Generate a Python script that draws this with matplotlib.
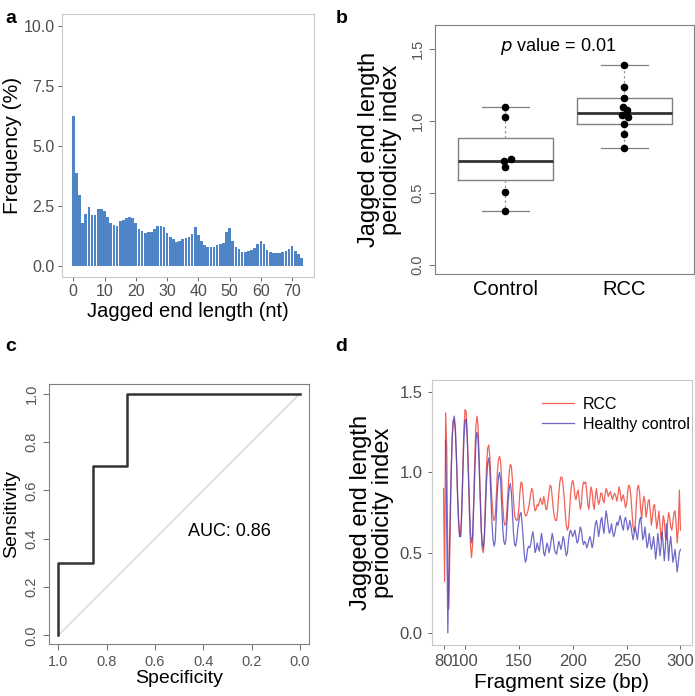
import numpy as np
import matplotlib.pyplot as plt
from matplotlib import cbook

plt.rcParams['font.family'] = ['Liberation Sans', 'DejaVu Sans']

# panel a: jagged end length distribution
jag_len = np.arange(0, 74)
jag_freq = [6.26, 3.89, 2.95, 1.81, 2.17, 2.48, 2.13, 2.13, 2.36, 2.38,
            2.31, 2.03, 1.78, 1.71, 1.68, 1.86, 1.92, 1.99, 2.03, 1.99,
            1.81, 1.56, 1.46, 1.39, 1.42, 1.43, 1.53, 1.66, 1.68, 1.61,
            1.38, 1.22, 1.11, 1.02, 1.04, 1.13, 1.17, 1.22, 1.34, 1.61,
            1.28, 1.06, 0.89, 0.78, 0.78, 0.79, 0.89, 0.93, 0.97, 1.40,
            1.60, 1.03, 0.81, 0.71, 0.60, 0.60, 0.61, 0.67, 0.74, 0.90,
            1.04, 0.92, 0.65, 0.57, 0.53, 0.53, 0.53, 0.57, 0.63, 0.72,
            0.83, 0.64, 0.49, 0.35]

# panel b: periodicity index per sample
groups = ['Control', 'RCC']
control_idx = [1.095, 1.025, 0.724, 0.736, 0.678, 0.509, 0.373]
rcc_idx = [1.387, 1.238, 1.160, 1.095, 1.074, 1.042, 1.030, 0.981, 0.912, 0.810]
control_jit = [0.0, 0.0, -0.01, 0.05, -0.005, 0.0, 0.0]
rcc_jit = [0.0, 0.0, 0.0, -0.01, 0.02, -0.017, 0.03, 0.0, 0.0, 0.0]

# panel c: ROC
roc_spec = [1.0, 1.0, 0.857, 0.857, 0.714, 0.714, 0.0]
roc_sens = [0.0, 0.3, 0.3, 0.7, 0.7, 1.0, 1.0]

# panel d: periodicity index by fragment size
rcc_size = np.arange(80, 301)
rcc_pi = [0.90, 0.32, 1.37, 1.15, 0.40, 0.15, 0.55, 0.95, 1.22, 1.32,
          1.33, 1.25, 1.08, 0.85, 0.68, 0.60, 0.62, 0.80, 1.05, 1.28,
          1.39, 1.38, 1.25, 1.02, 0.75, 0.55, 0.47, 0.55, 0.80, 1.08,
          1.28, 1.35, 1.30, 1.12, 0.88, 0.65, 0.52, 0.50, 0.62, 0.85,
          1.05, 1.15, 1.17, 1.10, 0.95, 0.82, 0.73, 0.70, 0.72, 0.85,
          1.00, 1.08, 1.10, 1.07, 0.95, 0.80, 0.70, 0.67, 0.68, 0.78,
          0.90, 1.00, 1.05, 1.04, 0.95, 0.82, 0.73, 0.71, 0.70, 0.71,
          0.78, 0.88, 0.94, 0.93, 0.85, 0.76, 0.73, 0.73, 0.75, 0.78,
          0.82, 0.87, 0.90, 0.88, 0.80, 0.76, 0.77, 0.80, 0.79, 0.82,
          0.84, 0.81, 0.80, 0.85, 0.82, 0.77, 0.77, 0.82, 0.88, 0.92,
          0.91, 0.84, 0.77, 0.72, 0.70, 0.70, 0.76, 0.86, 0.94, 0.97,
          0.97, 0.92, 0.85, 0.75, 0.67, 0.64, 0.66, 0.76, 0.86, 0.93,
          0.95, 0.92, 0.85, 0.83, 0.87, 0.89, 0.83, 0.77, 0.80, 0.90,
          0.94, 0.93, 0.94, 0.88, 0.80, 0.77, 0.85, 0.91, 0.88, 0.80,
          0.77, 0.85, 0.90, 0.84, 0.80, 0.82, 0.87, 0.87, 0.83, 0.81,
          0.86, 0.90, 0.88, 0.85, 0.87, 0.88, 0.85, 0.83, 0.86, 0.87,
          0.85, 0.82, 0.86, 0.91, 0.88, 0.82, 0.84, 0.86, 0.82, 0.78,
          0.80, 0.88, 0.92, 0.91, 0.85, 0.75, 0.66, 0.63, 0.67, 0.80,
          0.90, 0.92, 0.88, 0.78, 0.71, 0.80, 0.85, 0.82, 0.72, 0.76,
          0.82, 0.83, 0.76, 0.67, 0.72, 0.79, 0.80, 0.72, 0.65, 0.70,
          0.76, 0.68, 0.58, 0.63, 0.73, 0.70, 0.60, 0.58, 0.68, 0.75,
          0.72, 0.66, 0.64, 0.69, 0.75, 0.76, 0.68, 0.56, 0.65, 0.89,
          0.64]
hc_size = np.arange(82, 301)
hc_pi = [1.20, 0.65, 0.00, 0.40, 0.70, 0.98, 1.20, 1.32,
         1.35, 1.28, 1.10, 0.88, 0.70, 0.60, 0.60, 0.75, 1.00, 1.22,
         1.32, 1.33, 1.22, 1.02, 0.80, 0.62, 0.56, 0.60, 0.80, 1.02,
         1.18, 1.25, 1.22, 1.05, 0.85, 0.65, 0.55, 0.53, 0.60, 0.78,
         0.95, 1.06, 1.09, 1.02, 0.85, 0.68, 0.58, 0.54, 0.57, 0.72,
         0.88, 0.97, 1.00, 0.95, 0.80, 0.65, 0.57, 0.55, 0.58, 0.70,
         0.82, 0.90, 0.93, 0.88, 0.75, 0.62, 0.55, 0.54, 0.58, 0.65,
         0.70, 0.74, 0.75, 0.68, 0.58, 0.49, 0.44, 0.46, 0.52, 0.54,
         0.53, 0.55, 0.60, 0.63, 0.58, 0.50, 0.52, 0.56, 0.53, 0.51,
         0.57, 0.62, 0.57, 0.50, 0.48, 0.52, 0.56, 0.54, 0.50, 0.53,
         0.58, 0.62, 0.58, 0.52, 0.50, 0.49, 0.53, 0.57, 0.55, 0.52,
         0.55, 0.60, 0.58, 0.52, 0.48, 0.50, 0.57, 0.62, 0.64, 0.62,
         0.60, 0.62, 0.64, 0.60, 0.56, 0.57, 0.62, 0.66, 0.64, 0.58,
         0.55, 0.57, 0.56, 0.53, 0.55, 0.58, 0.60, 0.57, 0.53, 0.56,
         0.62, 0.68, 0.70, 0.66, 0.60, 0.64, 0.70, 0.72, 0.66, 0.62,
         0.70, 0.76, 0.72, 0.66, 0.62, 0.64, 0.68, 0.63, 0.60, 0.62,
         0.66, 0.69, 0.67, 0.70, 0.73, 0.70, 0.66, 0.64, 0.70, 0.72,
         0.69, 0.64, 0.66, 0.70, 0.67, 0.62, 0.58, 0.62, 0.66, 0.62,
         0.58, 0.64, 0.70, 0.72, 0.66, 0.58, 0.60, 0.66, 0.60, 0.53,
         0.56, 0.62, 0.57, 0.52, 0.55, 0.60, 0.54, 0.46, 0.52, 0.62,
         0.56, 0.48, 0.54, 0.63, 0.55, 0.45, 0.53, 0.68, 0.58, 0.45,
         0.55, 0.60, 0.52, 0.44, 0.48, 0.52, 0.45, 0.38, 0.44, 0.50,
         0.52]

grey_txt = '#4d4d4d'

fig = plt.figure(figsize=(6.95, 6.96), dpi=100)
ax_a = fig.add_axes([0.0888, 0.6016, 0.3635, 0.378])
ax_b = fig.add_axes([0.626, 0.6063, 0.3727, 0.3578])
ax_c = fig.add_axes([0.0705, 0.0743, 0.3746, 0.374])
ax_d = fig.add_axes([0.6211, 0.0733, 0.375, 0.3807])

# ---- a ----
ax_a.bar(jag_len, jag_freq, width=0.85, color='#4f84c6', edgecolor='none')
ax_a.set_xlim(-3.7, 77.1)
ax_a.set_ylim(-0.47, 10.5)
ax_a.set_xticks(range(0, 71, 10))
ax_a.set_yticks([0, 2.5, 5, 7.5, 10])
ax_a.set_yticklabels(['0.0', '2.5', '5.0', '7.5', '10.0'])
ax_a.tick_params(labelsize=11.5, colors=grey_txt, length=3, width=0.6, pad=2)
ax_a.set_ylabel('Frequency (%)', fontsize=15, labelpad=1)
ax_a.set_xlabel('Jagged end length (nt)', fontsize=14.5, labelpad=2)
for s in ax_a.spines.values():
    s.set_color('#c8c8c8')
    s.set_linewidth(0.8)

# ---- b ----
def tukey_stats(vals):
    v = np.sort(vals)
    n = len(v)
    st = cbook.boxplot_stats(v)[0]
    half = (n + 1) // 2
    st['q1'] = np.median(v[:half])
    st['q3'] = np.median(v[n - half:])
    st['whislo'] = v.min()
    st['whishi'] = v.max()
    st['fliers'] = []
    return st

stats = [tukey_stats(np.array(control_idx)), tukey_stats(np.array(rcc_idx))]
ax_b.bxp(stats, positions=[1, 2], widths=0.8, showfliers=False,
         boxprops=dict(color='#808080', linewidth=1.0),
         whiskerprops=dict(color='#999999', linewidth=0.9, linestyle=(0, (2, 2))),
         capprops=dict(color='#808080', linewidth=0.9),
         medianprops=dict(color='#333333', linewidth=2.0),
         capwidths=0.4)
ax_b.scatter(1 + np.array(control_jit), control_idx, s=20, color='black', zorder=3)
ax_b.scatter(2 + np.array(rcc_jit), rcc_idx, s=20, color='black', zorder=3)
ax_b.set_xlim(0.41, 2.585)
ax_b.set_ylim(-0.0625, 1.667)
ax_b.set_xticks([1, 2])
ax_b.set_xticklabels(groups, fontsize=14.5)
ax_b.tick_params(axis='x', length=0, pad=4)
ax_b.set_yticks([0, 0.5, 1.0, 1.5])
ax_b.set_yticklabels(['0.0', '0.5', '1.0', '1.5'], rotation=90, va='center')
ax_b.tick_params(axis='y', labelsize=10.5, colors='#555555', length=4, width=0.6)
ax_b.set_ylabel('Jagged end length\nperiodicity index', fontsize=17, linespacing=1.0, labelpad=6)
ax_b.text(1.445, 1.52, r'$\it{p}$ value = 0.01', fontsize=13, ha='center', va='center')
for s in ax_b.spines.values():
    s.set_color('#808080')
    s.set_linewidth(0.8)

# ---- c ----
ax_c.plot([1, 0], [0, 1], color='#d0d0d0', linewidth=0.9)
ax_c.plot(roc_spec, roc_sens, color='#333333', linewidth=1.8)
ax_c.set_xlim(1.039, -0.039)
ax_c.set_ylim(-0.037, 1.04)
ax_c.set_xticks([1.0, 0.8, 0.6, 0.4, 0.2, 0.0])
ax_c.set_xticklabels(['1.0', '0.8', '0.6', '0.4', '0.2', '0.0'])
ax_c.set_yticks([0, 0.2, 0.4, 0.6, 0.8, 1.0])
ax_c.set_yticklabels(['0.0', '0.2', '0.4', '0.6', '0.8', '1.0'], rotation=90, va='center')
ax_c.tick_params(labelsize=10.5, colors='#555555', length=4, width=0.6)
ax_c.set_xlabel('Specificity', fontsize=14, labelpad=1)
ax_c.set_ylabel('Sensitivity', fontsize=14, labelpad=3)
ax_c.text(0.29, 0.43, 'AUC: 0.86', fontsize=13, ha='center', va='center')
for s in ax_c.spines.values():
    s.set_color('#808080')
    s.set_linewidth(0.8)

# ---- d ----
ax_d.plot(rcc_size, rcc_pi, color='#ee3b2f', linewidth=0.9, alpha=0.8, label='RCC')
ax_d.plot(hc_size, hc_pi, color='#4a44bb', linewidth=0.9, alpha=0.8, label='Healthy control')
ax_d.set_xlim(69, 311)
ax_d.set_ylim(-0.075, 1.575)
ax_d.set_xticks([80, 100, 150, 200, 250, 300])
ax_d.set_yticks([0, 0.5, 1.0, 1.5])
ax_d.set_yticklabels(['0.0', '0.5', '1.0', '1.5'])
ax_d.tick_params(labelsize=12, colors=grey_txt, length=3, width=0.6)
ax_d.set_xlabel('Fragment size (bp)', fontsize=15, labelpad=3)
ax_d.set_ylabel('Jagged end length\nperiodicity index', fontsize=17, linespacing=1.0, labelpad=4)
ax_d.legend(loc='upper right', bbox_to_anchor=(1.045, 0.99), frameon=False,
            fontsize=11.5, handlelength=2.0, handletextpad=0.55, labelspacing=0.3)
for s in ax_d.spines.values():
    s.set_color('#c8c8c8')
    s.set_linewidth(0.8)

for lab, x, y in [('a', 0.008, 0.985), ('b', 0.483, 0.985), ('c', 0.008, 0.515), ('d', 0.483, 0.515)]:
    fig.text(x, y, lab, fontsize=14, fontweight='bold', va='top')

fig.savefig('out.png', dpi=100)
